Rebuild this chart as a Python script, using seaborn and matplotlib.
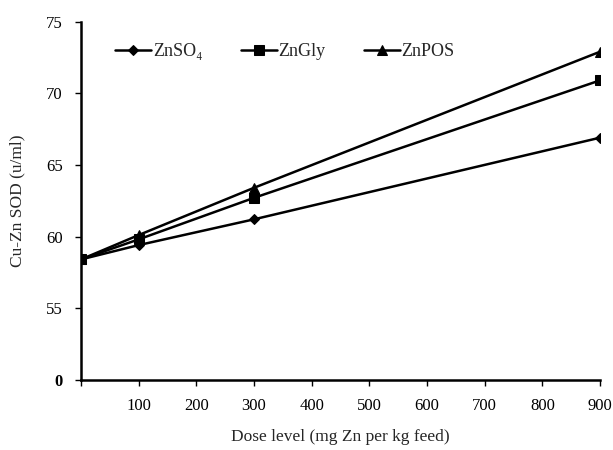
import pandas as pd
import matplotlib
matplotlib.use("Agg")
import matplotlib.pyplot as plt
import seaborn as sns

# dose levels and Cu-Zn SOD values
dose = [0, 100, 300, 900]
znso4 = [58.4, 59.4, 61.2, 66.9]
zngly = [58.4, 59.8, 62.7, 70.9]
znpos = [58.4, 60.1, 63.4, 72.9]

groups = ["ZnSO₄", "ZnGly", "ZnPOS"]
x_ticks = [100, 200, 300, 400, 500, 600, 700, 800, 900]
y_ticks = [50, 55, 60, 65, 70, 75]
y_tick_labels = ["0", "55", "60", "65", "70", "75"]

series = {groups[0]: znso4, groups[1]: zngly, groups[2]: znpos}
marcadores = {groups[0]: ("D", 5), groups[1]: ("s", 6.5), groups[2]: ("^", 7)}

sns.set_style("ticks")
plt.rcParams["font.family"] = ["Liberation Serif", "DejaVu Serif"]

fig, ax = plt.subplots(figsize=(6.13, 4.5), dpi=100)
fig.subplots_adjust(left=0.132, right=0.979, bottom=0.156, top=0.952)

for nome, valores in series.items():
    m, ms = marcadores[nome]
    df = pd.DataFrame({"dose": dose, "sod": valores})
    sns.lineplot(data=df, x="dose", y="sod", color="black", marker=m,
                 markersize=ms, linewidth=1.8, markeredgecolor="black",
                 label=nome, ax=ax)

ax.set_xlim(0, 900)
ax.set_ylim(50, 75)
ax.set_xticks([0] + x_ticks)
ax.set_xticklabels([""] + [str(t) for t in x_ticks], fontsize=12)
ax.set_yticks(y_ticks)
ax.set_yticklabels(y_tick_labels, fontsize=12)
ax.get_yticklabels()[0].set_fontweight("bold")
ax.tick_params(direction="out", length=4, width=1, colors="black")
ax.tick_params(axis="x", pad=9)
ax.tick_params(axis="y", pad=9)

for s in ["top", "right"]:
    ax.spines[s].set_visible(False)
for s in ["left", "bottom"]:
    ax.spines[s].set_linewidth(1.8)
    ax.spines[s].set_color("black")

ax.set_xlabel("Dose level (mg Zn per kg feed)", fontsize=12.5, labelpad=11)
ax.set_ylabel("Cu-Zn SOD (u/ml)", fontsize=12.5, labelpad=15)

ax.legend(loc="upper left", bbox_to_anchor=(0.035, 0.985), ncol=3, frameon=False,
          fontsize=13, handlelength=2.0, handletextpad=0.1, columnspacing=2.1)

plt.savefig("out.png", dpi=100)
